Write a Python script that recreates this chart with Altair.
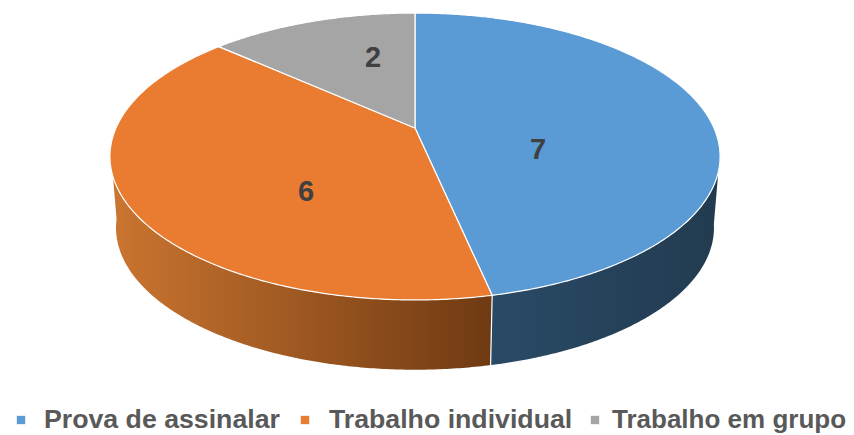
import math
import altair as alt

categories = ["Prova de assinalar", "Trabalho individual", "Trabalho em grupo"]
values = [7, 6, 2]
top_colors = ["#5B9BD5", "#E97C30", "#A5A5A5"]
side_stops = {
    "Prova de assinalar": ["#294A66", "#223B50"],
    "Trabalho individual": ["#CB7530", "#6F3A12"],
}
label_px = [(538, 150), (306, 192), (373, 58)]
legend_symbol_px = [21, 305, 595]
legend_text_px = [44, 329, 612]
legend_font = [26.7, 26.7, 26]
LEGEND_Y = 420

# perspective view of the pie's top face
CX, CY, RX, RY, K = 415.0, 128.0, 299.0, 137.8, 0.1986
DEPTH, SHRINK = 70.0, 0.98
total = sum(values)


def rim(deg):
    a = math.radians(deg)
    u, v = math.sin(a), -math.cos(a)
    w = 1 - K * v
    return [CX + RX * u / w, CY + RY * v / w]


def lower(deg):
    x, y = rim(deg)
    return [CX + SHRINK * (x - CX), CY + DEPTH + 0.99 * (y - CY) + 1.5]


def sweep(a, b, fn):
    n = max(2, int(abs(b - a) * 2))
    return [fn(a + (b - a) * i / n) for i in range(n + 1)]


def feature(name, ring):
    return {
        "type": "Feature",
        "properties": {"name": name},
        "geometry": {"type": "Polygon", "coordinates": [ring + [ring[0]]]},
    }


boundaries = [0.0]
for val in values:
    boundaries.append(boundaries[-1] + 360.0 * val / total)

top_features = []
for i, name in enumerate(categories):
    ring = [[CX, CY]] + sweep(boundaries[i], boundaries[i + 1], rim)
    top_features.append(feature(name, ring))

proj = alt.Projection(type="identity", scale=1, translate=[-8, -8])


def side(name, a, b):
    ring = sweep(a, b, rim) + sweep(b, a, lower)
    stops = side_stops[name]
    return alt.Chart(alt.Data(values=[feature(name, ring)])).mark_geoshape(
        fill=alt.Gradient(
            gradient="linear",
            x1=0, x2=1, y1=0, y2=0,
            stops=[alt.GradientStop(color=stops[0], offset=0),
                   alt.GradientStop(color=stops[1], offset=1)],
        ),
        stroke=None,
    ).project(**proj.to_dict())


b1, b2 = boundaries[1], boundaries[2]
side_blue = side(categories[0], 100, b1)
side_orange = side(categories[1], b1, 262)

divider = alt.Chart(alt.Data(values=[{
    "type": "Feature", "properties": {},
    "geometry": {"type": "LineString", "coordinates": [rim(b1), lower(b1)]},
}])).mark_geoshape(filled=False, stroke="#FFFFFF", strokeWidth=1.2).project(**proj.to_dict())

top = alt.Chart(alt.Data(values=top_features)).mark_geoshape(
    stroke="#FFFFFF", strokeWidth=1.2, strokeJoin="round"
).encode(
    color=alt.Color(
        "properties.name:N",
        scale=alt.Scale(domain=categories, range=top_colors),
        sort=categories,
        legend=None,
    )
).project(**proj.to_dict())

labels = []
for val, (px, py) in zip(values, label_px):
    labels.append(
        alt.Chart(alt.Data(values=[{"t": str(val)}])).mark_text(
            font="Liberation Sans", fontWeight="bold", fontSize=29, color="#404040",
            align="center", baseline="middle",
        ).encode(text="t:N", x=alt.value(px - 8), y=alt.value(py - 8))
    )

legend_marks = []
for name, colour, sx, tx, fs in zip(categories, top_colors, legend_symbol_px, legend_text_px, legend_font):
    legend_marks.append(
        alt.Chart(alt.Data(values=[{"t": name}])).mark_square(size=70, color=colour, opacity=1).encode(
            x=alt.value(sx - 8), y=alt.value(LEGEND_Y - 8)
        )
    )
    legend_marks.append(
        alt.Chart(alt.Data(values=[{"t": name}])).mark_text(
            font="Liberation Sans", fontWeight="bold", fontSize=fs, color="#595959",
            align="left", baseline="middle",
        ).encode(text="t:N", x=alt.value(tx - 8), y=alt.value(LEGEND_Y - 8))
    )

chart = alt.layer(side_blue, side_orange, divider, top, *labels, *legend_marks).properties(
    width=838, height=426, padding=0, autosize=alt.AutoSizeParams(type="none")
).configure_view(stroke=None)

chart.save("out.html", embed_options={"renderer": "svg", "actions": False})
